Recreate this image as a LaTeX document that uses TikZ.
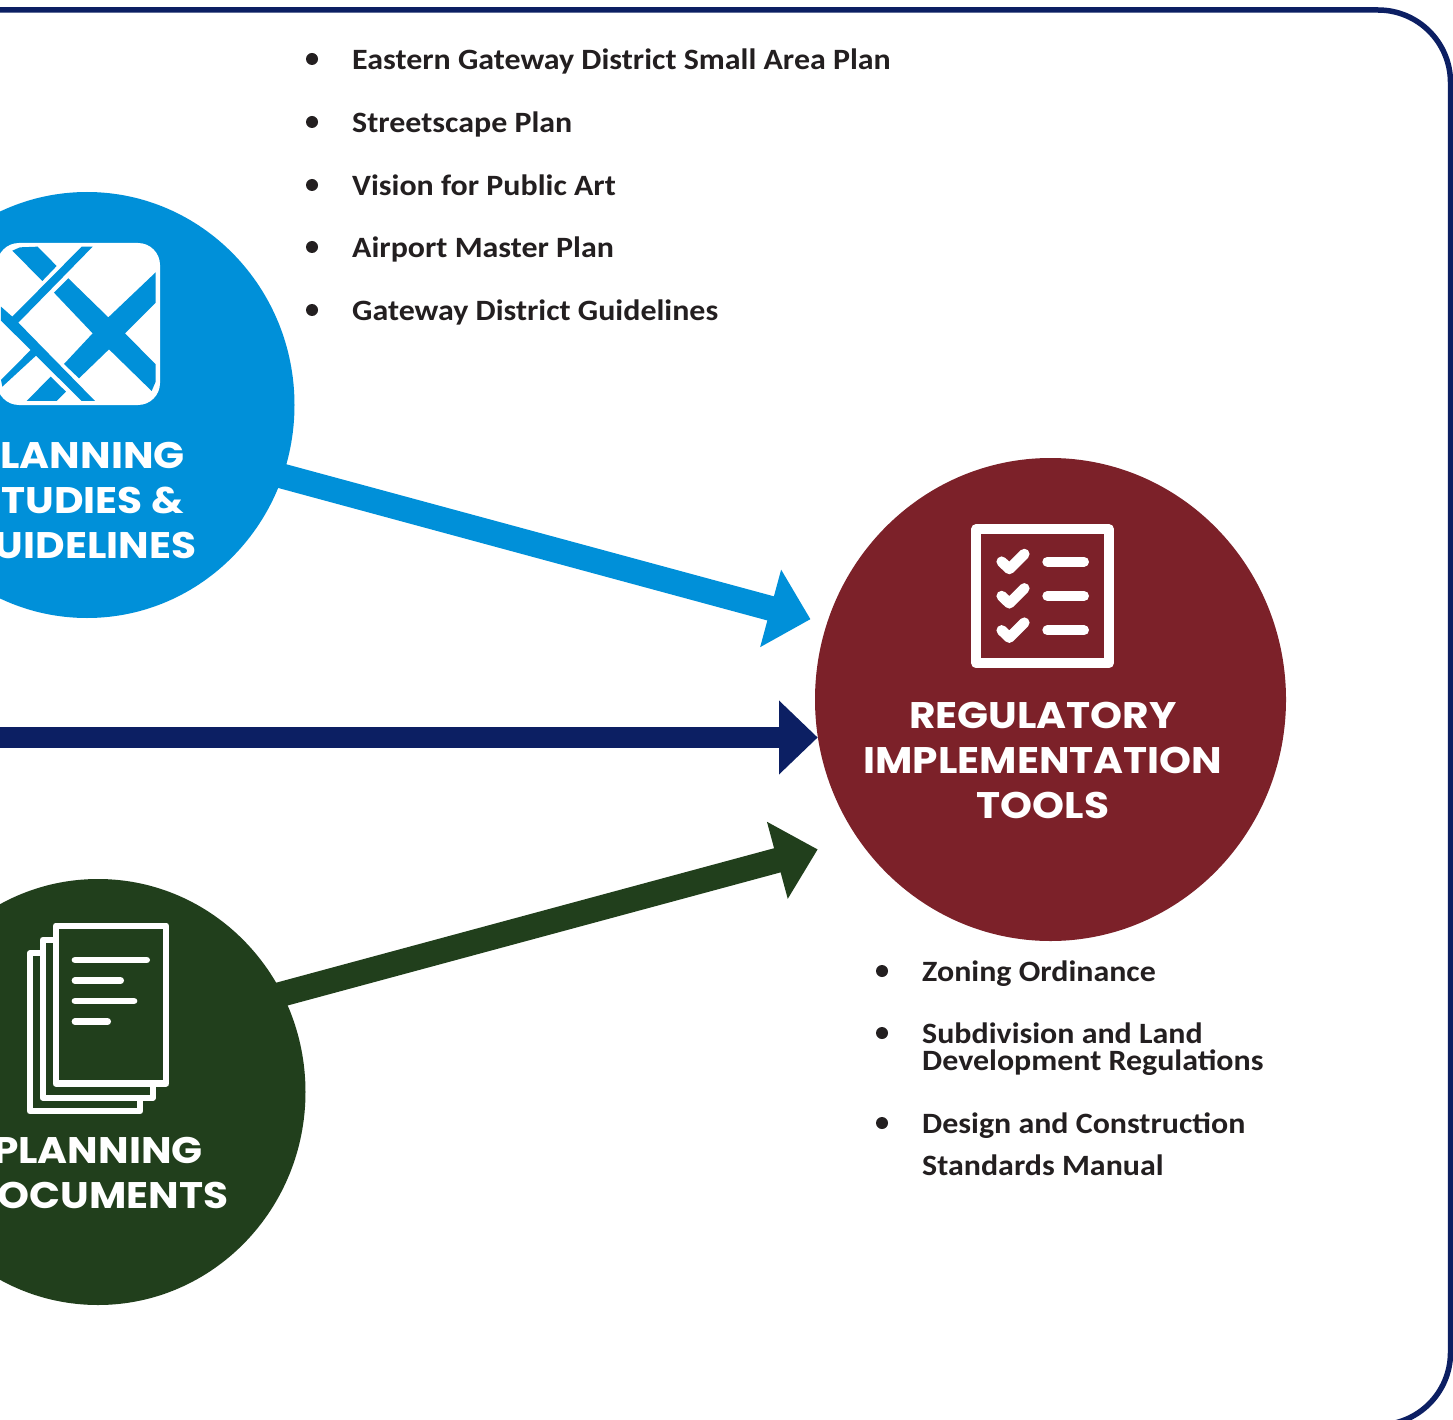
\documentclass[tikz,border=0pt]{standalone}
\usepackage{fontspec}
\setmainfont{Carlito}[FakeStretch=1.083]
\newfontfamily\hdfont{Poppins}[FakeStretch=1.1]
\usetikzlibrary{arrows.meta,shapes.geometric}
\definecolor{cblue}{RGB}{0,144,217}
\definecolor{cnavy}{RGB}{12,31,99}
\definecolor{cred}{RGB}{124,33,41}
\definecolor{cgreen}{RGB}{33,63,28}
\definecolor{ctext}{RGB}{35,31,32}
\tikzset{
  x=1pt,y=-1pt,
  disc/.style={ellipse,inner sep=0pt,minimum width=415pt,minimum height=426pt},
  bul/.style={circle,fill=ctext,inner sep=0pt,minimum size=12pt},
  item/.style={anchor=base west,inner sep=0pt,text=ctext,font=\fontsize{29.5}{30}\selectfont\bfseries},
  head/.style={align=center,inner sep=0pt,text=white,font=\fontsize{37}{45}\selectfont\hdfont\bfseries},
  conn/.style={line width=#1},
  icon/.style={draw=white,line join=round},
}
\begin{document}
\begin{tikzpicture}
\useasboundingbox (0,0) rectangle (1453,1420);
\clip (0,0) rectangle (1453,1420);
\fill[white] (0,0) rectangle (1453,1420);
% frame
\draw[cnavy,line width=5.5pt] (-20,10) -- (1378,10) arc[start angle=90,end angle=0,radius=72.5pt] -- (1450.5,1352.5) arc[start angle=0,end angle=-90,radius=72.5pt] -- (-20,1425);
% discs
\node[disc,fill=cblue] (blue) at (87,405) {};
\node[disc,fill=cgreen] (green) at (98,1092) {};
\node[ellipse,fill=cred,inner sep=0pt,minimum width=471pt,minimum height=483pt] (red) at (1050.5,699.5) {};
% connectors
\coordinate (tipblue) at (810.5,619.2);
\coordinate (tipnavy) at (817.7,737.5);
\coordinate (tipgreen) at (817.7,849.4);
\coordinate (navystart) at (-10,737.5);
\draw[cblue,conn=25pt,shorten <=-4pt,-{Triangle[length=41.3pt,width=77.7pt]}] (blue.-20.1) -- (tipblue);
\draw[cnavy,conn=21.6pt,-{Triangle[length=38.7pt,width=71.6pt]}] (navystart) -- (tipnavy);
\draw[cgreen,conn=25pt,shorten <=-4pt,-{Triangle[length=41.8pt,width=77.2pt]}] (green.28) -- (tipgreen);
% blue icon
\fill[white,rounded corners=22pt] (-3,243) rectangle (160,405);
\begin{scope}[shift={(0,230)},x=.33333pt,y=-.33333pt]
\fill[cblue] (37,62) -- (60,52) -- (113,50) -- (170,108) -- (127,153) -- cycle;
\fill[cblue] (245,50) -- (278,50) -- (55,278) -- (285,513) -- (245,513) -- (108,377) -- (7,470) -- (3,450) -- (92,360) -- (3,272) -- (3,230) -- (37,260) -- cycle;
\fill[cblue] (205,145) -- (325,262) -- (467,127) -- (467,218) -- (375,310) -- (467,403) -- (467,455) -- (455,483) -- (327,358) -- (237,445) -- (192,402) -- (278,310) -- (162,188) -- cycle;
\fill[cblue] (152,440) -- (198,485) -- (170,513) -- (80,513) -- cycle;
\end{scope}
% red icon
\begin{scope}[shift={(950,510)},x=.33333pt,y=-.33333pt]
\draw[icon,line width=10pt] (79,57.5) rectangle (476.5,460);
\foreach \r in {0,103,206} {
  \draw[icon,line width=10.5pt,line cap=round] (155,155+\r) -- (178,177+\r) -- (223,132+\r);
  \draw[icon,line width=10pt,line cap=round] (292,155+\r) -- (402,155+\r);
}
\end{scope}
% green icon
\begin{scope}[shift={(10,910)},x=.33333pt,y=-.33333pt]
\draw[icon,line width=6.3pt] (137.5,47) rectangle (468.5,520.5);
\draw[icon,line width=6.3pt] (137.5,90) -- (98,90) -- (98,563) -- (428.5,563) -- (428.5,520.5);
\draw[icon,line width=6.3pt] (98,130) -- (60,130) -- (60,604) -- (390,604) -- (390,563);
\foreach \ya/\xb in {150/410,212/332,273/372,335/293}
  \draw[icon,line width=6.7pt,line cap=round] (195,\ya) -- (\xb,\ya);
\end{scope}
% headings
\node[head] (hblue) at (80,500) {PLANNING\\STUDIES \&\\GUIDELINES};
\node[head] (hgreen) at (98,1172.5) {PLANNING\\DOCUMENTS};
\node[head] (hred) at (1043,760.5) {REGULATORY\\IMPLEMENTATION\\TOOLS};
% top list
\foreach \n/\y/\t in {a/70/Eastern Gateway District Small Area Plan,b/133/Streetscape Plan,c/196/Vision for Public Art,d/258/Airport Master Plan,e/321/Gateway District Guidelines} {
  \node[bul] (bul\n) at (312,\y-11) {};
  \node[item] (item\n) at (352,\y) {\t};
}
% lower list
\node[bul] (bulf) at (882,971) {};
\node[item] (itemf) at (922,981) {Zoning Ordinance};
\node[bul] (bulg) at (882,1033) {};
\node[item] (itemg) at (922,1043) {Subdivision and Land};
\node[item] (itemgg) at (922,1070) {Development Regulations};
\node[bul] (bulh) at (882,1123) {};
\node[item] (itemh) at (922,1133) {Design and Construction};
\node[item] (itemhh) at (922,1175) {Standards Manual};
\end{tikzpicture}
\end{document}
